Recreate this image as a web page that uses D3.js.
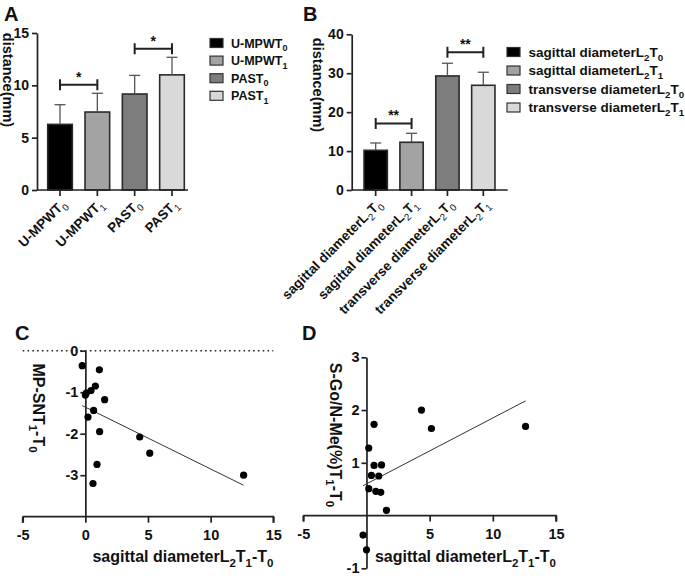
<!DOCTYPE html>
<html><head><meta charset="utf-8">
<script src="https://cdn.jsdelivr.net/npm/d3@7"></script>
<style>
body{margin:0;background:#fff}
svg text{font-family:"Liberation Sans",Arial,Helvetica,sans-serif;font-weight:bold;fill:#111}
</style>
</head><body>
<svg id="chart" width="685" height="576"></svg>
<script>
// ---------------- data ----------------
const catA = ["U-MPWT_0", "U-MPWT_1", "PAST_0", "PAST_1"];
const meanA = [6.27, 7.45, 9.17, 11.0];
const errA = [1.88, 1.79, 1.78, 1.68];
const ticksA = [0, 5, 10, 15];
const sigPairsA = [[0, 1], [2, 3]];
const sigLevelA = [10.05, 13.5];
const sigTextA = ["*", "*"];

const catB = ["sagittal diameterL_2T_0", "sagittal diameterL_2T_1", "transverse diameterL_2T_0", "transverse diameterL_2T_1"];
const meanB = [10.2, 12.26, 29.3, 26.9];
const errB = [1.88, 2.31, 3.26, 3.35];
const ticksB = [0, 10, 20, 30, 40];
const sigPairsB = [[0, 1], [2, 3]];
const sigLevelB = [17.1, 35.4];
const sigTextB = ["**", "**"];

const barColors = ["#000000", "#a3a3a3", "#7d7d7d", "#d9d9d9"];

const xC = [-0.25, 1.12, 0.8, 0.45, 0.08, 0.0, 1.54, 0.66, 0.21, 1.14, 0.93, 0.61, 4.34, 5.14, 12.63];
const yC = [-0.36, -0.46, -0.85, -0.96, -1.02, -1.07, -1.18, -1.44, -1.6, -1.95, -2.74, -3.2, -2.08, -2.47, -3.0];
const fitC = [-0.149, -1.36]; // slope, intercept
const xTicksC = [-5, 0, 5, 10, 15];
const yTicksC = [0, -1, -2, -3];

const xD = [0.6, 0.18, 4.35, 5.14, 12.59, 0.6, 1.19, 0.39, 0.97, 0.18, 0.74, 1.13, 1.58, -0.27, 0.0];
const yD = [1.73, 1.28, 2.0, 1.65, 1.69, 0.95, 0.96, 0.76, 0.75, 0.51, 0.46, 0.44, 0.1, -0.37, -0.65];
const fitD = [0.125, 0.6];
const xTicksD = [-5, 5, 10, 15];
const yTicksD = [-1, 1, 2, 3];

// ---------------- helpers ----------------
const svg = d3.select("#chart");
const INK = "#222";

function richText(sel, str, fs, subWeight) {
  // "_x" => subscript x
  sel.attr("font-size", fs);
  const parts = [];
  let buf = "";
  for (let i = 0; i < str.length; i++) {
    if (str[i] === "_" && i + 1 < str.length) {
      if (buf) parts.push([buf, false]);
      buf = "";
      parts.push([str[i + 1], true]);
      i++;
    } else buf += str[i];
  }
  if (buf) parts.push([buf, false]);
  let shifted = false;
  const sh = fs * 0.3;
  parts.forEach(([t, sub]) => {
    const ts = sel.append("tspan").text(t);
    if (sub) {
      ts.attr("font-size", fs * 0.72).attr("dy", shifted ? 0 : sh);
      if (subWeight) ts.attr("font-weight", subWeight);
      shifted = true;
    } else {
      if (shifted) ts.attr("dy", -sh);
      shifted = false;
    }
  });
  return sel;
}

function styleAxis(g, fs) {
  g.select(".domain").attr("stroke", INK).attr("stroke-width", 1.7);
  g.selectAll(".tick line").attr("stroke", INK).attr("stroke-width", 1.7);
  g.selectAll(".tick text").attr("font-size", fs).attr("fill", "#111")
    .attr("font-family", '"Liberation Sans",Arial,sans-serif').attr("font-weight", "bold");
}

function barPanel(o) {
  const g = svg.append("g");
  const y = d3.scaleLinear().domain(o.yDomain).range([o.y0, o.y1]);
  const x = d3.scaleBand().domain(o.cats).range(o.xRange).paddingInner(o.pad).paddingOuter(o.pad / 2);
  const bw = x.bandwidth();
  // bars
  g.selectAll("rect.bar").data(o.cats).join("rect")
    .attr("x", d => x(d)).attr("width", bw)
    .attr("y", (d, i) => y(o.means[i])).attr("height", (d, i) => y(0) - y(o.means[i]))
    .attr("fill", (d, i) => barColors[i]).attr("stroke", "#2a2a2a").attr("stroke-width", 1.6);
  // error bars (upper)
  const eb = g.selectAll("g.err").data(o.cats).join("g");
  eb.append("line")
    .attr("x1", d => x(d) + bw / 2).attr("x2", d => x(d) + bw / 2)
    .attr("y1", (d, i) => y(o.means[i])).attr("y2", (d, i) => y(o.means[i] + o.errs[i]))
    .attr("stroke", "#555").attr("stroke-width", 1.3);
  eb.append("line")
    .attr("x1", d => x(d) + bw / 2 - 5.5).attr("x2", d => x(d) + bw / 2 + 5.5)
    .attr("y1", (d, i) => y(o.means[i] + o.errs[i])).attr("y2", (d, i) => y(o.means[i] + o.errs[i]))
    .attr("stroke", "#555").attr("stroke-width", 1.3);
  // y axis
  const ya = g.append("g").attr("transform", `translate(${o.axisX},0)`)
    .call(d3.axisLeft(y).tickValues(o.ticks).tickSize(5).tickPadding(3).tickSizeOuter(0).tickFormat(d3.format("d")));
  styleAxis(ya, o.tickFs);
  // x axis
  g.append("line").attr("x1", o.axisX).attr("x2", o.axisEnd).attr("y1", y(0)).attr("y2", y(0))
    .attr("stroke", INK).attr("stroke-width", 1.7);
  const xt = g.selectAll("g.xt").data(o.cats).join("g")
    .attr("transform", d => `translate(${x(d) + bw / 2},${y(0)})`);
  xt.append("line").attr("y1", 0).attr("y2", 6).attr("stroke", INK).attr("stroke-width", 1.7);
  xt.append("text").attr("text-anchor", "end")
    .attr("transform", `translate(${o.lblDx},${o.lblDy}) rotate(-45)`)
    .each(function (d) { richText(d3.select(this), d, o.xFs, "normal"); });
  // significance brackets
  o.sigPairs.forEach((p, k) => {
    const xa = x(o.cats[p[0]]) + bw / 2, xb = x(o.cats[p[1]]) + bw / 2, yy = y(o.sigLevel[k]);
    g.append("path").attr("d", `M${xa},${yy - 5.5}V${yy + 5.5}M${xa},${yy}H${xb}M${xb},${yy - 5.5}V${yy + 5.5}`)
      .attr("stroke", "#222").attr("stroke-width", 2).attr("fill", "none");
    g.append("text").attr("x", (xa + xb) / 2).attr("y", yy - 3).attr("text-anchor", "middle")
      .attr("font-size", 14).text(o.sigText[k]);
  });
  // y label
  g.append("text").attr("transform", `translate(${o.yLblX},${o.yLblY}) rotate(90)`)
    .attr("text-anchor", "middle").attr("dy", "0.35em").attr("font-size", 14.5).text("distance(mm)");
  // legend
  const lg = g.selectAll("g.lg").data(o.cats).join("g")
    .attr("transform", (d, i) => `translate(${o.legX},${o.legY + i * o.legStep})`);
  lg.append("rect").attr("x", 0).attr("y", -4.5).attr("width", 13).attr("height", 9)
    .attr("fill", (d, i) => barColors[i]).attr("stroke", "#333").attr("stroke-width", 1.2);
  lg.append("text").attr("x", o.legTextDx).attr("y", 0).attr("dy", "0.36em")
    .each(function (d) { richText(d3.select(this), d, o.legFs, null); });
  // panel label
  g.append("text").attr("x", o.pX).attr("y", o.pY).attr("font-size", 20).text(o.panel);
}

barPanel({
  panel: "A", pX: 4, pY: 21,
  cats: catA, means: meanA, errs: errA, ticks: ticksA, yDomain: [0, 15], y0: 190, y1: 33,
  xRange: [41.35, 190.65], pad: 0.34, axisX: 37, axisEnd: 188,
  sigPairs: sigPairsA, sigLevel: sigLevelA, sigText: sigTextA,
  tickFs: 14, xFs: 13.5, lblDx: 7, lblDy: 15,
  yLblX: 8, yLblY: 80,
  legX: 210, legY: 43, legStep: 17.6, legTextDx: 21, legFs: 12.5
});

barPanel({
  panel: "B", pX: 303, pY: 21,
  cats: catB, means: meanB, errs: errB, ticks: ticksB, yDomain: [0, 40], y0: 190, y1: 34.3,
  xRange: [357.75, 501.25], pad: 0.35, axisX: 351.7, axisEnd: 507.7,
  sigPairs: sigPairsB, sigLevel: sigLevelB, sigText: sigTextB,
  tickFs: 14, xFs: 13.5, lblDx: 7, lblDy: 15,
  yLblX: 318, yLblY: 85,
  legX: 507, legY: 52, legStep: 18.5, legTextDx: 21.5, legFs: 13.5
});

function scatterPanel(o) {
  const g = svg.append("g");
  const x = d3.scaleLinear().domain([-5, 15]).range(o.xRange);
  const y = d3.scaleLinear().domain(o.yDomain).range(o.yRange);
  // x axis
  const xa = g.append("g").attr("transform", `translate(0,${y(o.xAxisAt)})`)
    .call(d3.axisBottom(x).tickValues(o.xTicks).tickSize(6).tickPadding(7).tickSizeOuter(0).tickFormat(d => String(d)));
  styleAxis(xa, 14.5);
  xa.select(".domain").attr("d", `M${x(-5)},0V6M${x(-5)},0H${x(15)}V6`);
  // y axis
  const ya = g.append("g").attr("transform", `translate(${x(0)},0)`)
    .call(d3.axisLeft(y).tickValues(o.yTicks).tickSize(5).tickPadding(2).tickSizeOuter(0).tickFormat(d => String(d)));
  styleAxis(ya, 14.5);
  // reference dotted line
  if (o.dotted) {
    g.append("line").attr("x1", x(-5)).attr("x2", x(15)).attr("y1", y(0)).attr("y2", y(0))
      .attr("stroke", "#222").attr("stroke-width", 1.6).attr("stroke-dasharray", "1.6,3.2");
  }
  // fit line
  const xmin = d3.min(o.xs), xmax = d3.max(o.xs);
  g.append("line").attr("x1", x(xmin)).attr("x2", x(xmax))
    .attr("y1", y(o.fit[1] + o.fit[0] * xmin)).attr("y2", y(o.fit[1] + o.fit[0] * xmax))
    .attr("stroke", "#333").attr("stroke-width", 1);
  // points
  g.selectAll("circle").data(o.xs).join("circle")
    .attr("cx", d => x(d)).attr("cy", (d, i) => y(o.ys[i])).attr("r", 3.6).attr("fill", "#000");
  // labels
  richText(g.append("text").attr("x", o.xLbl[0]).attr("y", o.xLbl[1]).attr("text-anchor", "middle"),
    "sagittal diameterL_2T_1-T_0", 16, null);
  richText(g.append("text").attr("transform", `translate(${o.yLbl[0]},${o.yLbl[1]}) rotate(90)`)
    .attr("text-anchor", "middle").attr("dy", "0.35em"), o.yTitle, 16, null);
  g.append("text").attr("x", o.pX).attr("y", o.pY).attr("font-size", 20).text(o.panel);
}

scatterPanel({
  panel: "C", pX: 15, pY: 340,
  xRange: [22.7, 273.3], yDomain: [-4, 0], yRange: [516.7, 350.7], xAxisAt: -4,
  xTicks: xTicksC, yTicks: yTicksC, dotted: true,
  xs: xC, ys: yC, fit: fitC,
  xLbl: [183, 562], yLbl: [39, 408], yTitle: "MP-SNT_1-T_0"
});

scatterPanel({
  panel: "D", pX: 302, pY: 340,
  xRange: [303.3, 556], yDomain: [-1, 3], yRange: [568.3, 357.3], xAxisAt: 0,
  xTicks: xTicksD, yTicks: yTicksD, dotted: false,
  xs: xD, ys: yD, fit: fitD,
  xLbl: [465.5, 562], yLbl: [336, 435], yTitle: "S-Go/N-Me(%)T_1-T_0"
});
</script>
</body></html>
